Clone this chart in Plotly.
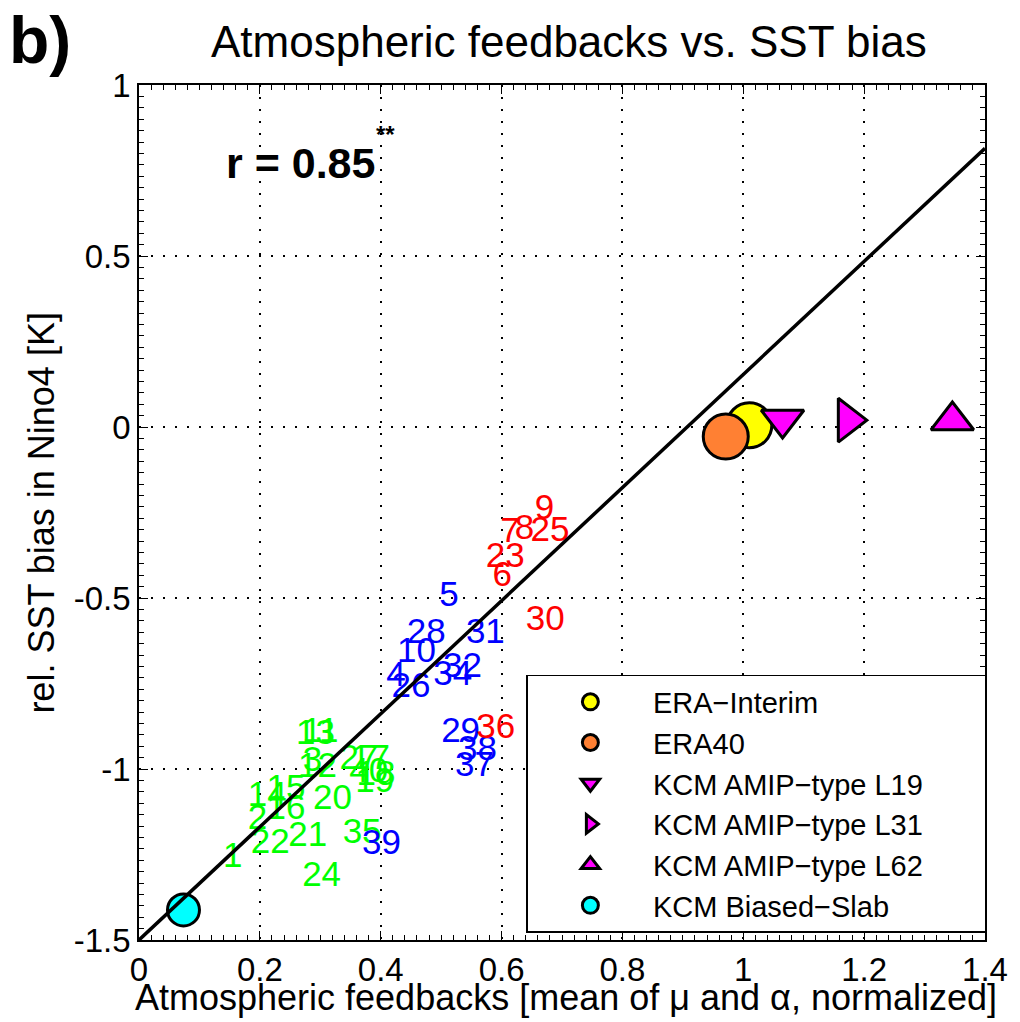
import plotly.graph_objects as go

FONT = "Liberation Sans, Arial, Helvetica, sans-serif"

# ---- model labels (numbers) by group: value positions (x = feedback, y = SST bias)
red_labels = ["9", "7", "8", "25", "23", "6", "30", "36"]
red_x = [0.655, 0.598, 0.622, 0.648, 0.574, 0.585, 0.640, 0.558]
red_y = [-0.243, -0.310, -0.301, -0.307, -0.383, -0.439, -0.567, -0.883]

blue_labels = ["5", "28", "10", "31", "32", "34", "4", "26", "29", "38", "37", "39"]
blue_x = [0.497, 0.443, 0.427, 0.541, 0.503, 0.487, 0.409, 0.418, 0.500, 0.528, 0.523, 0.369]
blue_y = [-0.497, -0.605, -0.661, -0.605, -0.705, -0.728, -0.731, -0.763, -0.895, -0.947, -0.994, -1.222]

green_labels = ["1", "11", "13", "3", "12", "27", "17", "40", "18", "19", "20",
                "14", "15", "16", "2", "21", "22", "24", "35"]
green_x = [0.139, 0.270, 0.260, 0.271, 0.263, 0.332, 0.351, 0.348, 0.360, 0.358, 0.288,
           0.180, 0.211, 0.211, 0.180, 0.247, 0.185, 0.270, 0.337]
green_y = [-1.260, -0.895, -0.901, -0.980, -0.997, -0.974, -0.974, -1.012, -1.020, -1.041, -1.091,
           -1.082, -1.061, -1.120, -1.149, -1.199, -1.219, -1.316, -1.190]

# ---- reference / special experiments
ref_names = ["ERA−Interim", "ERA40", "KCM AMIP−type L19", "KCM AMIP−type L31",
             "KCM AMIP−type L62", "KCM Biased−Slab"]
ref_x = [1.010, 0.971, 1.065, 1.173, 1.346, 0.0736]
ref_y = [0.005, -0.028, 0.022, 0.020, 0.019, -1.412]
ref_symbols = ["circle", "circle", "triangle-down", "triangle-right", "triangle-up", "circle"]
ref_colors = ["#FFFF00", "#FF8033", "#FF00FF", "#FF00FF", "#FF00FF", "#00FFFF"]
ref_sizes = [45, 45, 37, 38, 37, 32]

# ---- regression line
fit_x = [0.0, 1.4]
fit_y = [-1.50, 0.815]

x_ticks = [0, 0.2, 0.4, 0.6, 0.8, 1.0, 1.2, 1.4]
x_ticktext = ["0", "0.2", "0.4", "0.6", "0.8", "1", "1.2", "1.4"]
y_ticks = [-1.5, -1.0, -0.5, 0, 0.5, 1.0]
y_ticktext = ["-1.5", "-1", "-0.5", "0", "0.5", "1"]

fig = go.Figure()

for labs, xs, ys, col in [(green_labels, green_x, green_y, "#00FF00"),
                          (blue_labels, blue_x, blue_y, "#0000FF"),
                          (red_labels, red_x, red_y, "#FF0000")]:
    fig.add_trace(go.Scatter(x=xs, y=ys, text=labs, mode="text",
                             textposition="middle right",
                             textfont=dict(family=FONT, size=35, color=col),
                             showlegend=False, hoverinfo="skip"))

PAD = "\u00a0" * 7  # widens the legend box to the reference's width
for i in range(len(ref_names)):
    label = ref_names[i] + (PAD if i == 2 else "")
    fig.add_trace(go.Scatter(x=[ref_x[i]], y=[ref_y[i]], mode="markers", name=label,
                             marker=dict(symbol=ref_symbols[i], size=ref_sizes[i],
                                         color=ref_colors[i],
                                         line=dict(color="black", width=3))))

fig.add_trace(go.Scatter(x=fit_x, y=fit_y, mode="lines", line=dict(color="black", width=3.5),
                         showlegend=False, hoverinfo="skip"))

axis_common = dict(showline=True, linecolor="black", linewidth=1.5, mirror="allticks",
                   ticks="inside", ticklen=9, tickcolor="black", tickwidth=1,
                   showgrid=True, gridcolor="black", griddash="2px,10px", gridwidth=1.5,
                   zeroline=False, tickfont=dict(family=FONT, size=33, color="black"))

fig.update_xaxes(range=[0, 1.4], tickvals=x_ticks, ticktext=x_ticktext,
                 minor=dict(dtick=0.02, tick0=0, ticks="inside", ticklen=5, tickcolor="black",
                            showgrid=False),
                 **axis_common)
fig.update_yaxes(range=[-1.5, 1.0], tickvals=y_ticks, ticktext=y_ticktext,
                 minor=dict(dtick=0.5 / 15, tick0=-1.5, ticks="inside", ticklen=5,
                            tickcolor="black", showgrid=False),
                 **axis_common)

fig.update_layout(
    width=1020, height=1022,
    margin=dict(l=139, r=25, t=85, b=82),
    plot_bgcolor="white", paper_bgcolor="white",
    font=dict(family=FONT, color="black"),
    showlegend=True,
    legend=dict(x=0.4579, y=0.310, xanchor="left", yanchor="top",
                bordercolor="black", borderwidth=1.5, bgcolor="white",
                font=dict(family=FONT, size=29, color="black"),
                itemsizing="trace", itemwidth=115, tracegroupgap=0),
    annotations=[
        dict(text="Atmospheric feedbacks vs. SST bias", xref="paper", yref="paper",
             x=0.508, y=1.0503, xanchor="center", yanchor="middle", showarrow=False,
             font=dict(family=FONT, size=44)),
        dict(text="<b>b)</b>", xref="paper", yref="paper", x=-0.1565, y=1.0526,
             xanchor="left", yanchor="middle", showarrow=False,
             font=dict(family=FONT, size=66)),
        dict(text="<b>r = 0.85</b>", xref="x", yref="y", x=0.1407, y=0.772,
             xanchor="left", yanchor="middle", showarrow=False,
             font=dict(family=FONT, size=43)),
        dict(text="<b>**</b>", xref="x", yref="y", x=0.389, y=0.855,
             xanchor="left", yanchor="middle", showarrow=False,
             font=dict(family=FONT, size=24)),
        dict(text="Atmospheric feedbacks [mean of μ and α, normalized]", xref="paper",
             yref="paper", x=0.505, y=-0.0667, xanchor="center", yanchor="middle",
             showarrow=False, font=dict(family=FONT, size=36)),
        dict(text="rel. SST bias in Nino4 [K]", xref="paper", yref="paper",
             x=-0.1157, y=0.5, xanchor="center", yanchor="middle", textangle=-90,
             showarrow=False, font=dict(family=FONT, size=36)),
    ],
)

fig.write_html("out.html")
